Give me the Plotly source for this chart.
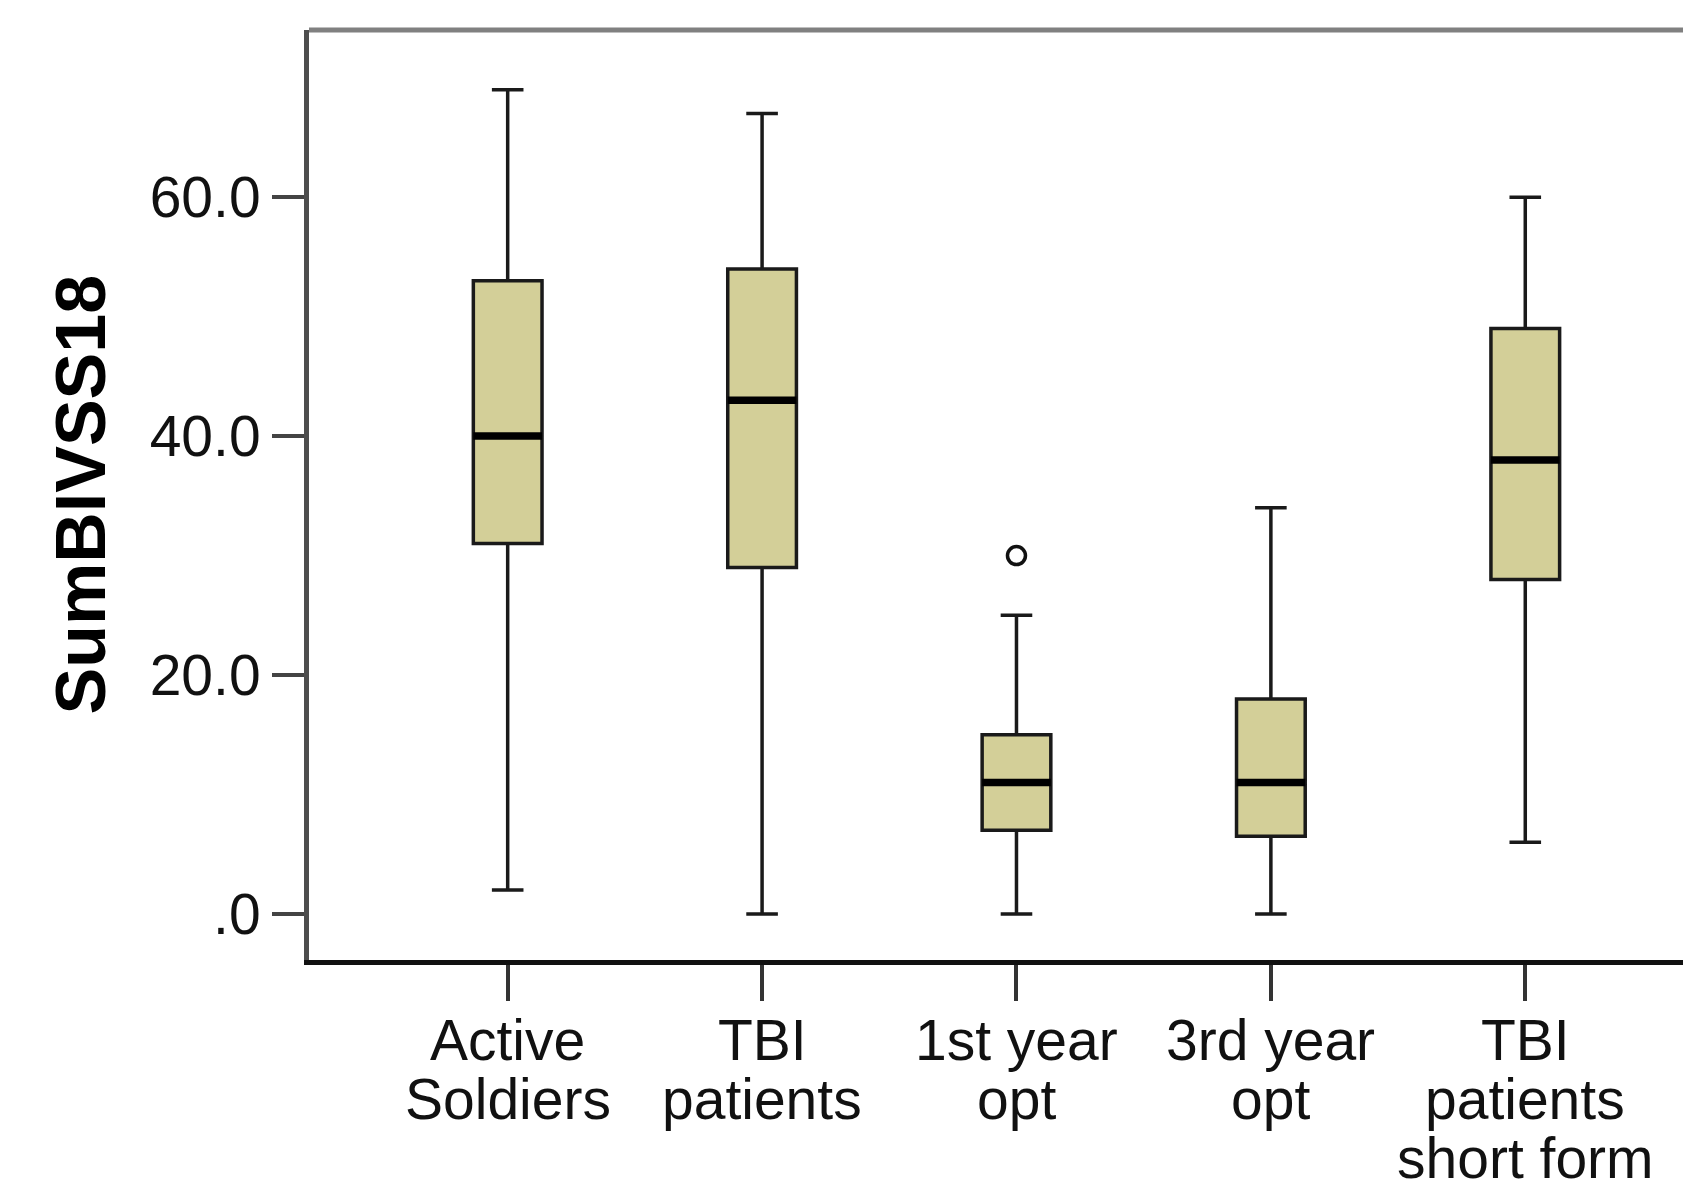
import plotly.graph_objects as go

# ---- data ----
categories = ["Active Soldiers", "TBI patients", "1st year opt", "3rd year opt", "TBI patients short form"]
label_lines = [["Active", "Soldiers"], ["TBI", "patients"], ["1st year", "opt"], ["3rd year", "opt"],
               ["TBI", "patients", "short form"]]
lower_fence = [2, 0, 0, 0, 6]
q1_vals = [31, 29, 7, 6.5, 28]
median_vals = [40, 43, 11, 11, 38]
q3_vals = [53, 54, 15, 18, 49]
upper_fence = [69, 67, 25, 34, 60]
outlier_cat = [2]
outlier_vals = [30]
y_tick_vals = [0, 20, 40, 60]
y_tick_text = [".0", "20.0", "40.0", "60.0"]
y_title = "SumBIVSS18"

# ---- layout constants ----
W, H = 1683, 1182
ML, MR, MT, MB = 309, 0, 30, 222
PH = H - MT - MB
BOX_W = 0.27
FONT = "Liberation Sans, Arial, sans-serif"
FS = 57

xpos = list(range(len(categories)))

fig = go.Figure()
fig.add_trace(go.Box(
    x=xpos, q1=q1_vals, median=median_vals, q3=q3_vals,
    lowerfence=lower_fence, upperfence=upper_fence,
    width=BOX_W, whiskerwidth=0.46,
    fillcolor="#D3CF98", line=dict(color="#1a1a1a", width=3.5),
    boxpoints=False, showlegend=False, hoverinfo="skip",
))

# thicker median lines derived from the data
mx, my = [], []
for i, m in zip(xpos, median_vals):
    mx += [i - BOX_W / 2, i + BOX_W / 2, None]
    my += [m, m, None]
fig.add_trace(go.Scatter(x=mx, y=my, mode="lines", line=dict(color="black", width=7.5),
                         showlegend=False, hoverinfo="skip"))

# outlier
fig.add_trace(go.Scatter(x=outlier_cat, y=outlier_vals, mode="markers",
                         marker=dict(symbol="circle-open", size=18, color="#111", line=dict(width=3.5)),
                         showlegend=False, hoverinfo="skip"))

fig.update_layout(
    width=W, height=H,
    margin=dict(l=ML, r=MR, t=MT, b=MB),
    plot_bgcolor="white", paper_bgcolor="white",
    font=dict(family=FONT, size=FS, color="#111"),
    xaxis=dict(range=[-0.781, 4.62], tickvals=xpos, showticklabels=False,
               ticks="outside", ticklen=36, tickwidth=4, tickcolor="#333",
               showgrid=False, zeroline=False, showline=True, linecolor="#111", linewidth=5),
    yaxis=dict(range=[-3.86, 74.0], tickvals=y_tick_vals, ticktext=y_tick_text,
               ticks="outside", ticklen=32, tickwidth=4, tickcolor="#444",
               tickfont=dict(size=FS, family=FONT, color="#111"),
               showgrid=False, zeroline=False, showline=True, linecolor="#4d4d4d", linewidth=5),
)

# top frame line (gray)
fig.add_shape(type="line", xref="paper", yref="paper", x0=0, x1=1, y0=1, y1=1,
              line=dict(color="#808080", width=5), layer="above")

# category labels (multi-line, tight spacing)
first_center_px = 1040   # pixel y of first line's centre
line_gap = 59
for i, lines in zip(xpos, label_lines):
    for k, t in enumerate(lines):
        py = first_center_px + k * line_gap
        fig.add_annotation(x=i, xref="x", y=(H - MB - py) / PH, yref="paper",
                           text=t, showarrow=False, xanchor="center", yanchor="middle",
                           font=dict(size=FS, family=FONT, color="#111"))

# y axis title
fig.add_annotation(x=(80.5 - ML) / (W - ML - MR), xref="paper", y=(H - MB - 495) / PH, yref="paper",
                   text="<b>" + y_title + "</b>", textangle=-90, showarrow=False,
                   xanchor="center", yanchor="middle",
                   font=dict(size=70, family=FONT, color="black"))

fig.write_html("out.html")
